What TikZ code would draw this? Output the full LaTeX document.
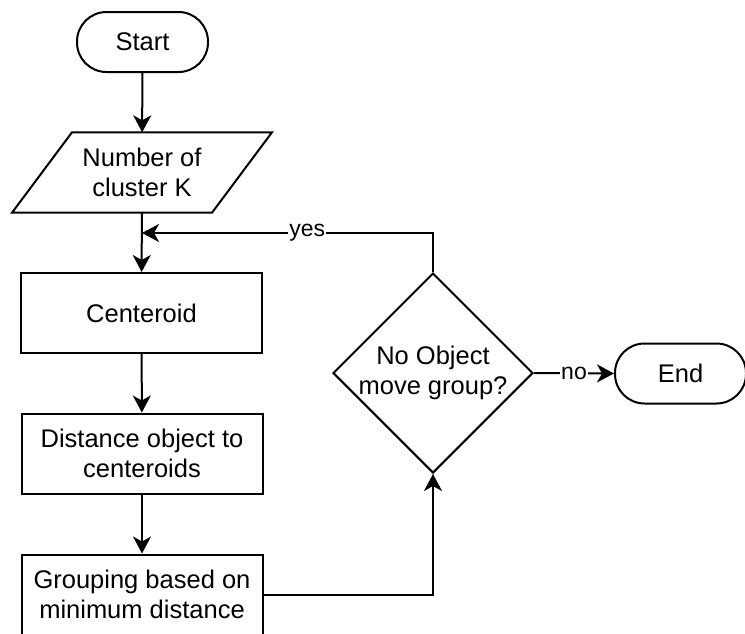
\documentclass[tikz,border=0pt]{standalone}
\usepackage{fontspec}
\setmainfont{Liberation Sans}
\usetikzlibrary{shapes.geometric,arrows.meta}
\begin{document}
\begin{tikzpicture}[x=1pt,y=-1pt,
  every node/.style={font=\fontsize{25.5}{30}\selectfont, text=black},
  line/.style={line width=2pt, draw=black},
  arr/.style={line, -{Stealth[length=17pt,width=18pt,inset=5pt]}},
  terminal/.style={line, rectangle, rounded corners=29.5pt, minimum width=131pt, minimum height=60pt, inner sep=0pt},
  proc/.style={line, rectangle, minimum width=241pt, minimum height=80pt, inner sep=0pt, align=center},
  lbl/.style={fill=white, inner sep=1pt, font=\fontsize{23}{26}\selectfont}
]
\useasboundingbox (0,0) rectangle (745,633);
\node[terminal] (start) at (142.5,42) {Start};
\node[minimum width=200pt, minimum height=80pt, inner sep=0pt, align=center] (input) at (142,172.5) {Number of\\cluster K};
\draw[line] ([xshift=-70pt]input.north) -- ([xshift=130pt]input.north) -- ([xshift=70pt]input.south) -- ([xshift=-130pt]input.south) -- cycle;
\node[proc] (cent) at (141.5,313) {Centeroid};
\node[proc] (dist) at (142,453.5) {Distance object to\\centeroids};
\node[proc] (group) at (142,594.5) {Grouping based on\\minimum distance};
\node[line, diamond, minimum width=200pt, minimum height=200pt, inner sep=0pt] (dec) at (433,373) {};
\node[align=center, inner sep=0pt] (dectext) at (dec.center) {No Object\\move group?};
\node[terminal] (end) at (680.5,373.5) {End};
\coordinate (join) at (142,233);

\draw[arr] (start) -- (input);
\draw[arr] (input) -- (cent);
\draw[arr] (cent) -- (dist);
\draw[arr] (dist) -- (group);
\draw[arr] (group.east) -| (dec.south);
\draw[arr] (dec.north) |- node[lbl, pos=0.716] (yes) {yes} (join);
\draw[arr] (dec.east) -- node[lbl] (no) {no} (end.west);
\end{tikzpicture}
\end{document}
